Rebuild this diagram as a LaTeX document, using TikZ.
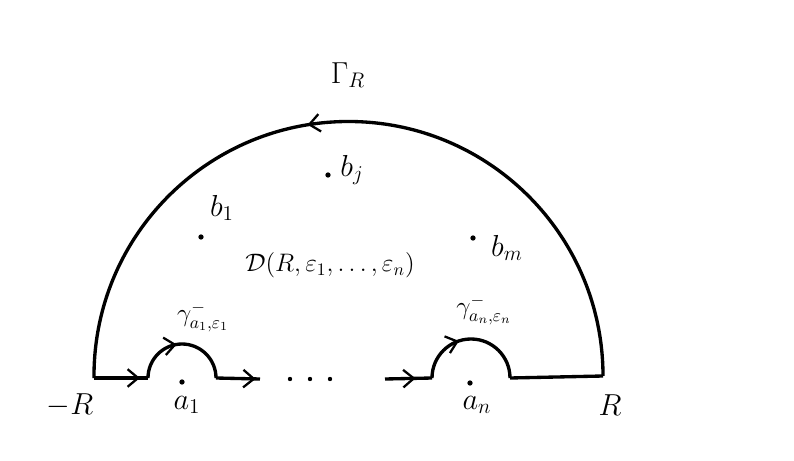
\documentclass[tikz,border=0pt]{standalone}
\usepackage{amsmath,amssymb}
\usepackage{tikz}
\usetikzlibrary{arrows.meta,decorations.markings}

\begin{document}
\begin{tikzpicture}[x=0.02cm,y=0.02cm,font=\LARGE,
  contour/.style={line width=1.9pt},
  midarr/.style={postaction={decorate},decoration={markings,
    mark=at position #1 with {\arrow{Straight Barb[length=6pt,width=10pt,line width=1.3pt]}}}},
  pt/.style={circle,fill,inner sep=0pt,minimum size=3pt}]
\useasboundingbox (0,0) rectangle (794,460);
% points on the real axis
\coordinate (mR) at (94,82);
\coordinate (a1l) at (148,82);
\coordinate (a1r) at (216,82);
\coordinate (dl) at (260,81);
\coordinate (dr) at (385,81);
\coordinate (anl) at (432,82);
\coordinate (anr) at (510,82);
\coordinate (R) at (603,84);
% contour
\draw[contour,midarr=0.85] (mR) -- (a1l);
\draw[contour,midarr=0.45] (a1l) arc[start angle=180,end angle=0,radius=34];
\draw[contour,midarr=0.9] (a1r) -- (dl);
\draw[contour,midarr=0.65] (dr) -- (anl);
\draw[contour,midarr=0.4] (anl) arc[start angle=180,end angle=0,radius=39];
\draw[contour] (anr) -- (R);
\draw[contour,midarr=0.55] (R) arc[start angle=0,end angle=180,radius=254.5] -- (mR);
% dots on the axis
\node[pt,minimum size=2.5pt] (d1) at (290,81) {};
\node[pt,minimum size=2.5pt] (d2) at (310,81) {};
\node[pt,minimum size=2.5pt] (d3) at (330,81) {};
% poles and labels
\node[pt] (a1) at (182,78) {};
\node[pt] (an) at (470,77) {};
\node[pt] (bj) at (328,285) {};
\node[pt] (b1) at (201,223) {};
\node[pt] (bm) at (473,222) {};
\node (la1) at (187,55) {$a_1$};
\node (lan) at (477,55) {$a_n$};
\node (lmR) at (70,55) {$-R$};
\node (lR) at (610,55) {$R$};
\node (lG) at (348,385) {$\Gamma_R$};
\node (lbj) at (352,290) {$b_j$};
\node (lb1) at (222,252) {$b_1$};
\node (lbm) at (507,212) {$b_m$};
\node[font=\Large] (lD) at (330,195) {$\mathcal{D}(R,\varepsilon_1,\ldots,\varepsilon_n)$};
\node[font=\Large] (lg1) at (203,143) {$\gamma^-_{a_1,\varepsilon_1}$};
\node[font=\Large] (lgn) at (484,150) {$\gamma^-_{a_n,\varepsilon_n}$};
\end{tikzpicture}
\end{document}
